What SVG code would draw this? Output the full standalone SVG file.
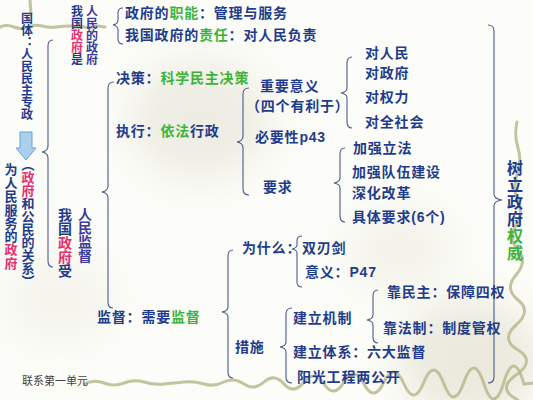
<svg xmlns="http://www.w3.org/2000/svg" width="533" height="400" viewBox="0 0 533 400">
<defs>
<filter id="blur" x="-50%" y="-50%" width="200%" height="200%"><feGaussianBlur stdDeviation="18"/></filter>
<style>
text{font-family:"Noto Sans CJK SC","Noto Sans",sans-serif;fill:#1f3c8c;font-weight:bold;}
.t{font-size:14px;letter-spacing:0.8px;}
.v{writing-mode:vertical-rl;}
.g{fill:#3cb43c;}
.p{fill:#e23070;}
.pu{fill:#3d3b9c;}
.b{font-family:"Liberation Sans",sans-serif;font-weight:bold;}
.br{fill:none;stroke:#4b5a8c;stroke-width:1.1;}
.wave{fill:none;stroke:#b9b98e;stroke-width:3;stroke-linecap:round;opacity:0.85;}
</style>
</defs>
<rect width="533" height="400" fill="#fcfcf8"/>
<g id="background" filter="url(#blur)" opacity="0.55">
<ellipse cx="200" cy="120" rx="70" ry="60" fill="#e3e1d2"/>
<ellipse cx="470" cy="360" rx="70" ry="60" fill="#dedbc8"/>
<ellipse cx="400" cy="250" rx="50" ry="40" fill="#ecebdf"/>
<ellipse cx="60" cy="300" rx="50" ry="40" fill="#eeede3"/>
</g>
<g id="decoration">
<path class="wave" d="M0 27 Q7 24 14 27 T28 27 T42 26 T56 27 T70 26 T84 27 T98 26 L105 27"/>
<path class="wave" d="M30 0 L31 14"/>
<path class="wave" d="M84 384 Q94 379 104 383 T124 383 T144 382 T164 384 T184 382 T204 384 T224 382 T244 384 T264 382 T284 384 T304 382 T324 384 T344 382 T364 384 T384 382 T404 384 T424 382 T444 384 T464 382 T484 384 T504 382 T524 384 L533 383"/>
<path class="wave" d="M517 122 Q514 135 518 148 T517 175 T518 200 T516 225 T518 250 T516 275 T518 300 T516 325 T518 350 T516 375 T518 400"/>
</g>
<g id="connectors">
<path class="br" d="M53 40 Q48 40 48 46 L48 146 Q48 151 42 152 Q48 153 48 158 L48 261 Q48 267 53 267"/>
<path class="br" d="M123 8 Q118 8 118 13 L118 20 Q118 24 113 25 Q118 26 118 30 L118 39 Q118 44 123 44"/>
<path class="br" d="M114 82 Q108 82 108 88 L108 186 Q108 191 102 192 Q108 193 108 198 L108 302 Q108 308 113 308"/>
<path class="br" d="M249 88 Q243 88 243 94 L243 136 Q243 141 237 142 Q243 143 243 148 L243 189 Q243 195 249 195"/>
<path class="br" d="M352 57 Q347 57 347 63 L347 88 Q347 92 341 93 Q347 94 347 98 L347 122 Q347 128 352 128"/>
<path class="br" d="M345 148 Q340 148 340 154 L340 178 Q340 182 334 183 Q340 184 340 188 L340 216 Q340 222 345 222"/>
<path class="br" d="M233 250 Q228 250 228 256 L228 307 Q228 311 222 312 Q228 313 228 317 L228 372 Q228 378 233 378"/>
<path class="br" d="M302 236 Q297 236 297 241 L297 245 Q297 248 292 249 Q297 250 297 253 L297 282 Q297 287 302 287"/>
<path class="br" d="M292 308 Q286 308 286 314 L286 342 Q286 346 280 347 Q286 348 286 352 L286 377 Q286 383 292 383"/>
<path class="br" d="M378 290 Q373 290 373 296 L373 315 Q373 319 367 320 Q373 321 373 325 L373 337 Q373 343 378 343"/>
<path class="br" d="M488 25 Q494 25 494 31 L494 194 Q494 199 502 200 Q494 201 494 206 L494 377 Q494 383 488 383"/>
<path id="arrow" d="M20 132 H32 V148 H36 L26 160 L16 148 H20 Z" fill="#a9d0ef" stroke="#6f9fcf" stroke-width="1"/>
</g>
<g id="n-guoti"><text class="v" x="27" y="12" font-size="12">国体：人民民主专政</text></g>
<g id="n-guanxi"><text class="v" x="28" y="158" font-size="13">（<tspan class="p">政府</tspan>和公民的关系）</text></g>
<g id="n-weirenmin"><text class="v" x="11" y="163" font-size="13" letter-spacing="0.4">为人民服务的<tspan class="p">政府</tspan></text></g>
<g id="n-renmindezhengfu"><text class="v pu" x="92" y="5" font-size="12">人民的政府</text></g>
<g id="n-woguozhengfushi"><text class="v" x="77" y="5" font-size="12">我国<tspan class="p">政府</tspan>是</text></g>
<g id="n-woguozhengfushou"><text class="v" x="65" y="208" font-size="14">我国<tspan class="p">政府</tspan>受</text></g>
<g id="n-renminjiandu"><text class="v pu" x="85" y="207" font-size="14">人民监督</text></g>
<g id="n-shuli"><text class="v" x="515" y="160" font-size="16" letter-spacing="1">树立政府<tspan class="g">权威</tspan></text></g>
<g id="n-zhineng"><text class="t" x="125" y="18">政府的<tspan class="g">职能</tspan>：管理与服务</text></g>
<g id="n-zeren"><text class="t" x="125" y="40">我国政府的<tspan class="g">责任</tspan>：对人民负责</text></g>
<g id="n-juece"><text class="t" x="116" y="83">决策：<tspan class="g">科学民主决策</tspan></text></g>
<g id="n-zhixing"><text class="t" x="116" y="136">执行：<tspan class="g">依法</tspan>行政</text></g>
<g id="n-jiandu"><text class="t" x="97" y="322">监督：需要<tspan class="g">监督</tspan></text></g>
<g id="n-zhongyao"><text class="t" x="260" y="91">重要意义</text><text class="t" x="246" y="111">（四个有利于）</text></g>
<g id="n-biyao"><text class="t" x="255" y="142">必要性<tspan class="b">p43</tspan></text></g>
<g id="n-yaoqiu"><text class="t" x="263" y="192">要求</text></g>
<g id="n-dui1"><text class="t" x="365" y="58">对人民</text></g>
<g id="n-dui2"><text class="t" x="365" y="78">对政府</text></g>
<g id="n-dui3"><text class="t" x="365" y="102">对权力</text></g>
<g id="n-dui4"><text class="t" x="365" y="127">对全社会</text></g>
<g id="n-yq1"><text class="t" x="353" y="153">加强立法</text></g>
<g id="n-yq2"><text class="t" x="352" y="177">加强队伍建设</text></g>
<g id="n-yq3"><text class="t" x="352" y="198">深化改革</text></g>
<g id="n-yq4"><text class="t" x="352" y="222">具体要求<tspan class="b">(6</tspan>个<tspan class="b">)</tspan></text></g>
<g id="n-weishenme"><text class="t" x="242" y="253">为什么：</text></g>
<g id="n-shuangren"><text class="t" x="302" y="253">双刃剑</text></g>
<g id="n-yiyi"><text class="t" x="305" y="277">意义：<tspan class="b">P47</tspan></text></g>
<g id="n-cuoshi"><text class="t" x="235" y="352">措施</text></g>
<g id="n-jizhi"><text class="t" x="293" y="323">建立机制</text></g>
<g id="n-tixi"><text class="t" x="293" y="357">建立体系：六大监督</text></g>
<g id="n-yangguang"><text class="t" x="297" y="382">阳光工程两公开</text></g>
<g id="n-minzhu"><text class="t" x="387" y="297">靠民主：保障四权</text></g>
<g id="n-fazhi"><text class="t" x="383" y="333">靠法制：制度管权</text></g>
<g id="n-footer"><text x="22" y="385" font-size="11" style="fill:#444;font-weight:normal;font-family:'Noto Sans CJK SC',serif;">联系第一单元</text></g>
</svg>
